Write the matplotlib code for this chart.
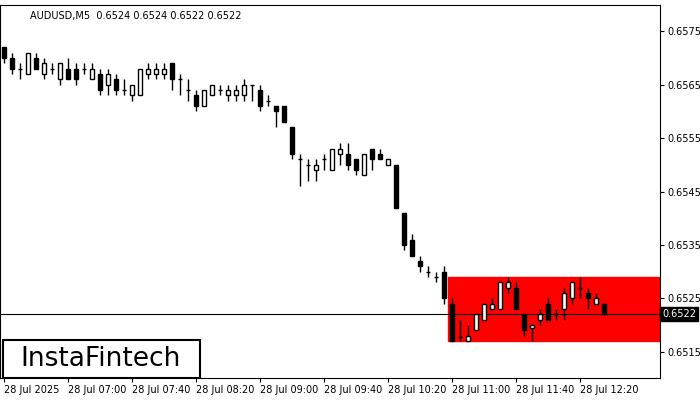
import matplotlib
matplotlib.use("Agg")
import matplotlib.pyplot as plt
from matplotlib.patches import Rectangle

opens  = [.6572,.6570,.6568,.6567,.6570,.6567,.6568,.6566,.6568,.6568,.6568,.6566,.6567,.6565,.6566,.6564,.6563,.6563,.6567,.6567,.6567,.6569,.6566,.6564,.6563,.6561,.6563,
          .6564,.6563,.6563,.6563,.6565,.6564,.6562,.6561,.6561,.6557,.6551,.6550,.6549,.6551,.6549,.6552,.6552,.6551,.6548,.6553,.6552,.6550,
          .6550,.6541,.6536,.6532,.6530,.6529,.6530,.6524,.65178,.6517,.6519,.6521,.6523,.6523,.6527,.6527,.6522,.65195,.6521,.6524,.6522,.6523,.6525,.6527,.6526,.6524,.6524]
closes = [.6570,.6568,.6568,.6571,.6568,.6569,.6568,.6569,.6566,.6566,.6568,.6568,.6564,.6567,.6564,.6564,.6565,.6568,.6568,.6568,.6568,.6566,.6566,.6564,.6561,.6564,.6565,
          .6564,.6564,.6564,.6565,.6565,.6561,.6562,.6560,.6558,.6552,.6551,.6550,.6550,.6551,.6553,.6553,.6550,.6549,.6552,.6551,.6551,.6551,
          .6542,.6535,.6533,.6531,.6530,.6529,.6525,.6517,.65178,.6518,.6522,.6524,.6524,.6528,.6528,.6523,.6519,.6520,.6522,.6521,.6522,.6526,.6528,.6527,.6525,.6525,.6522]
highs  = [.6572,.6571,.6569,.6571,.6571,.6570,.6569,.6569,.6570,.6569,.6569,.6569,.6568,.6568,.6567,.6566,.6565,.6568,.6569,.6569,.6569,.6569,.6567,.6566,.6564,.6564,.6565,
          .6565,.6565,.6565,.6566,.6565,.6565,.6563,.6561,.6561,.6557,.6552,.6551,.6551,.6552,.6553,.6554,.6554,.6551,.6552,.6553,.6553,.6551,
          .6550,.6541,.6537,.6533,.6531,.6530,.6531,.6525,.6521,.6520,.6522,.6524,.6525,.6528,.6529,.6528,.6522,.6520,.6523,.6525,.6523,.6527,.6528,.6529,.6527,.6526,.6524]
lows   = [.6569,.6567,.6566,.6567,.6568,.6566,.6567,.6565,.6566,.6565,.6567,.6566,.6563,.6563,.6563,.6563,.6562,.6563,.6566,.6566,.6566,.6564,.6563,.6562,.6560,.6561,.6563,
          .6563,.6562,.6562,.6562,.6562,.6560,.6561,.6557,.6558,.6551,.6546,.6547,.6547,.6549,.6549,.6550,.6549,.6548,.6548,.6549,.6551,.6550,
          .6542,.6534,.6533,.6530,.6529,.6528,.6524,.6517,.6517,.6517,.6519,.6521,.6523,.6523,.6526,.6523,.6518,.6517,.6520,.6521,.6521,.6521,.6524,.6525,.6523,.6524,.6522]
xtick_labels = ["28 Jul 2025","28 Jul 07:00","28 Jul 07:40","28 Jul 08:20","28 Jul 09:00","28 Jul 09:40","28 Jul 10:20","28 Jul 11:00","28 Jul 11:40","28 Jul 12:20"]
ytick_vals = [0.6515,0.6525,0.6535,0.6545,0.6555,0.6565,0.6575]
zone_low, zone_high, zone_start = 0.6517, 0.6529, 56
last_price = 0.6522

fig = plt.figure(figsize=(7,4), dpi=100)
ax = fig.add_axes([0, 22/400, 660/700, 373/400])
ax.set_xlim(-0.5, 82)
ax.set_ylim(0.65101, 0.65799)

ax.add_patch(Rectangle((zone_start-0.5, zone_low), 82-zone_start+0.5, zone_high-zone_low, color='#ff0000', zorder=1))
ax.axhline(last_price, color='black', lw=0.8, zorder=2)

w = 0.6
for i,(o,c,h,l) in enumerate(zip(opens,closes,highs,lows)):
    ax.vlines(i, l, h, color='black', lw=1, zorder=3)
    if abs(c-o) < 1e-7:
        ax.hlines(o, i-w/2, i+w/2, color='black', lw=1, zorder=3)
    else:
        ax.add_patch(Rectangle((i-w/2, min(o,c)), w, abs(c-o),
                               facecolor='white' if c>o else 'black', edgecolor='black', lw=1, zorder=4))

ax.yaxis.tick_right()
ax.set_yticks(ytick_vals)
ax.set_yticklabels([f"{v:.4f}" for v in ytick_vals], fontsize=7)
ax.set_xticks([8*k for k in range(len(xtick_labels))])
ax.set_xticklabels(xtick_labels, fontsize=7, ha='left')
ax.tick_params(length=3, pad=2)
for s in ax.spines.values():
    s.set_linewidth(0.8)

ax.text(last_price and 82.3, last_price, f"{last_price:.4f}", fontsize=7, color='white', va='center', ha='left',
        bbox=dict(facecolor='black', edgecolor='black', pad=1.5), clip_on=False, zorder=6)
ax.text(0.045, 0.985, "AUDUSD,M5  0.6524 0.6524 0.6522 0.6522", transform=ax.transAxes, fontsize=7, va='top')

fig.text(3/700, 1-378/400, "", )
ax.add_patch(Rectangle((3/660, 0.0), 197/660, 38/373, transform=ax.transAxes, facecolor='white', edgecolor='black', lw=1.5, zorder=7))
ax.text(101/660, 19/373, "InstaFintech", transform=ax.transAxes, fontsize=19, ha='center', va='center', zorder=8)

fig.savefig("out.png", dpi=100)
